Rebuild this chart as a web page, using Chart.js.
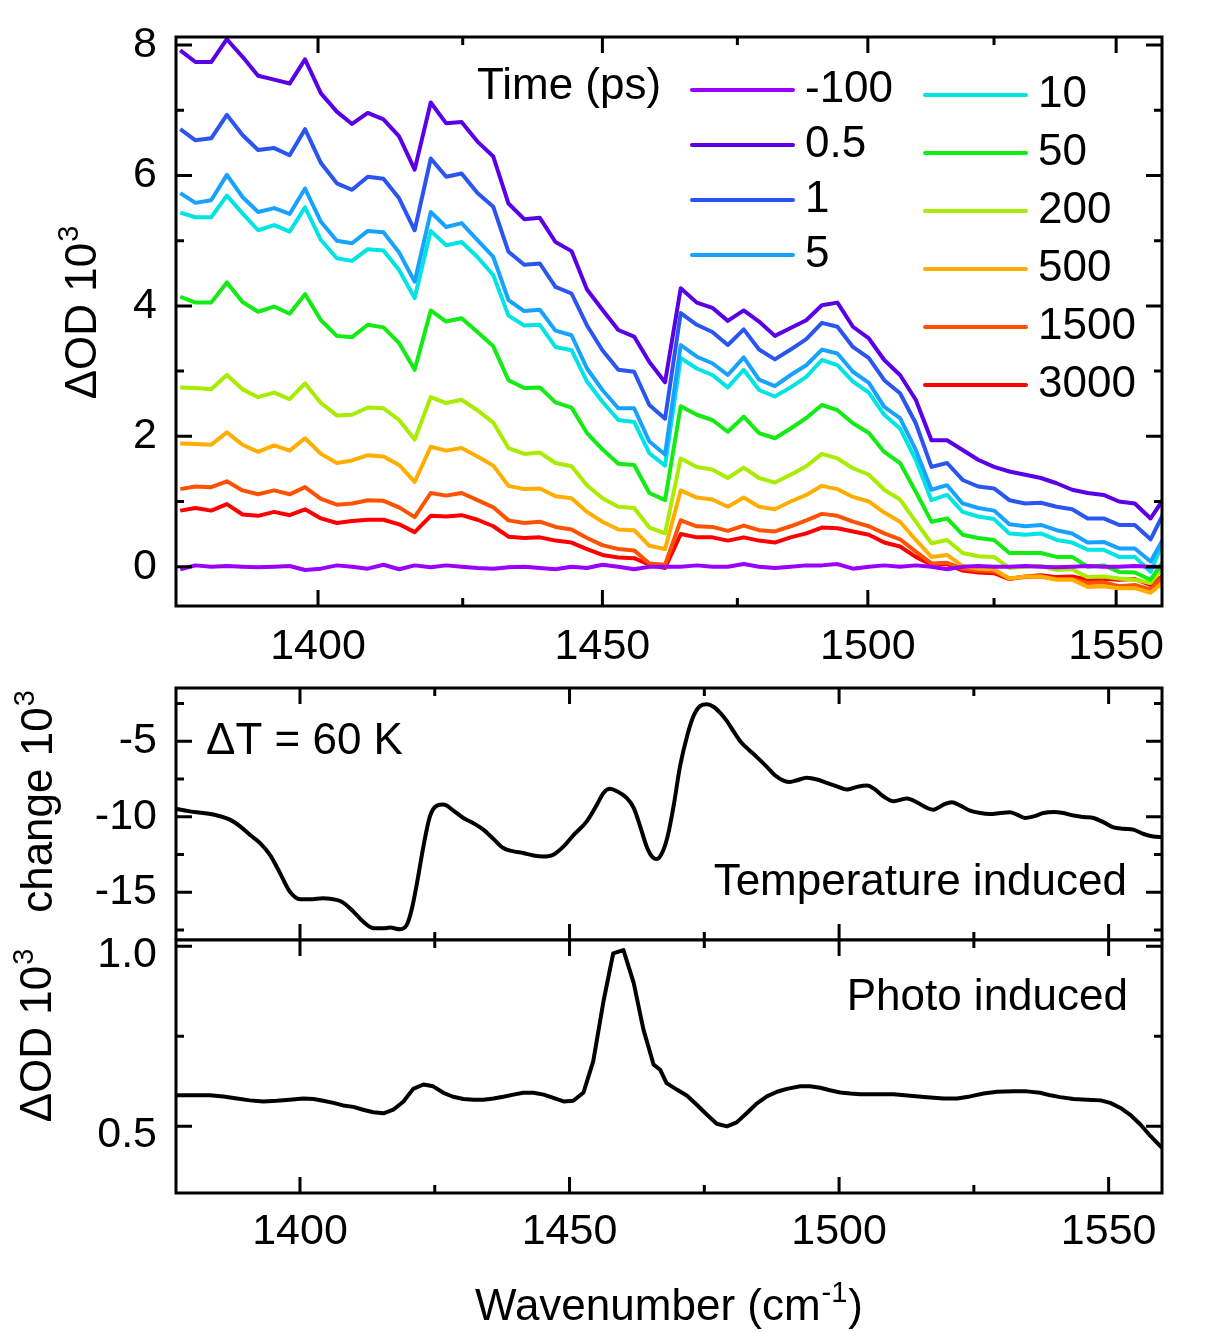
<!DOCTYPE html>
<html>
<head>
<meta charset="utf-8">
<title>Transient IR spectra</title>
<script src="https://cdn.jsdelivr.net/npm/chart.js@4.4.1/dist/chart.umd.min.js"></script>
<style>
    html, body { margin: 0; padding: 0; background: #fff; }
    #wrap { position: relative; width: 1206px; height: 1332px; overflow: hidden; }
    canvas { position: absolute; left: 0; }
</style>
</head>
<body>
<div id="wrap">
    <canvas id="kinetics-chart" width="1206" height="680" style="top:0"></canvas>
    <canvas id="thermal-chart" width="1206" height="300" style="top:640px"></canvas>
    <canvas id="photo-chart" width="1206" height="432" style="top:900px"></canvas>
</div>
<script>
// ---- data ----

// top panel: pump-probe delay series, sampled on the detector pixels
const timeLabels = ['-100', '0.5', '1', '5', '10', '50', '200', '500', '1500', '3000'];
const timeWavenumbers = [
    1377.0, 1379.5, 1382.1, 1384.7, 1387.3, 1389.9, 1392.6, 1395.2, 1397.8, 1400.5, 1403.2, 1405.8, 1408.5, 1411.2, 1413.9, 1416.6,
    1419.4, 1422.1, 1424.8, 1427.6, 1430.4, 1433.1, 1435.9, 1438.7, 1441.5, 1444.4, 1447.2, 1450.0, 1452.9, 1455.8, 1458.6, 1461.5,
    1464.4, 1467.4, 1470.3, 1473.2, 1476.2, 1479.1, 1482.1, 1485.1, 1488.1, 1491.1, 1494.1, 1497.1, 1500.2, 1503.2, 1506.3, 1509.4,
    1512.5, 1515.6, 1518.7, 1521.8, 1525.0, 1528.1, 1531.3, 1534.5, 1537.7, 1540.9, 1544.1, 1547.4, 1550.6, 1553.9, 1557.2, 1560.5
];
const odMinus100 = [
    -0.04, 0.02, 0.00, 0.01, 0.00, -0.01, 0.00, 0.01, -0.05, -0.03, 0.02, 0.00, -0.03, 0.03, -0.04, 0.02,
    -0.01, 0.02, 0.00, -0.02, -0.03, -0.01, 0.00, -0.02, -0.04, 0.00, -0.02, 0.03, 0.00, -0.04, 0.00, 0.00,
    0.00, 0.02, 0.00, 0.00, 0.04, 0.00, -0.02, 0.00, 0.02, 0.02, 0.04, -0.03, 0.00, 0.02, 0.00, 0.02,
    0.00, -0.04, 0.00, 0.01, 0.00, 0.00, 0.01, 0.00, -0.01, 0.00, 0.01, 0.00, 0.00, 0.01, 0.00, 0.00
];
const od0p5 = [
    7.92, 7.74, 7.74, 8.09, 7.82, 7.53, 7.47, 7.41, 7.78, 7.26, 6.98, 6.79, 6.96, 6.86, 6.60, 6.09,
    7.12, 6.80, 6.82, 6.52, 6.29, 5.57, 5.33, 5.35, 4.98, 4.84, 4.25, 3.94, 3.63, 3.53, 3.14, 2.83,
    4.27, 4.05, 3.97, 3.77, 3.93, 3.76, 3.54, 3.66, 3.78, 4.01, 4.05, 3.68, 3.50, 3.17, 2.94, 2.56,
    1.94, 1.94, 1.79, 1.64, 1.53, 1.46, 1.41, 1.36, 1.28, 1.18, 1.13, 1.10, 1.00, 0.97, 0.74, 1.10
];
const od1 = [
    6.71, 6.54, 6.57, 6.93, 6.62, 6.39, 6.42, 6.31, 6.71, 6.19, 5.88, 5.78, 5.98, 5.95, 5.65, 5.16,
    6.26, 5.98, 6.03, 5.73, 5.52, 4.83, 4.63, 4.65, 4.29, 4.19, 3.70, 3.32, 3.02, 2.99, 2.48, 2.27,
    3.89, 3.71, 3.60, 3.40, 3.64, 3.33, 3.18, 3.33, 3.49, 3.74, 3.68, 3.37, 3.20, 2.86, 2.66, 2.20,
    1.53, 1.59, 1.33, 1.23, 1.20, 1.02, 0.97, 0.98, 0.92, 0.88, 0.74, 0.74, 0.64, 0.64, 0.42, 0.90
];
const od5 = [
    5.73, 5.58, 5.62, 6.01, 5.67, 5.44, 5.50, 5.41, 5.80, 5.29, 5.00, 4.96, 5.15, 5.13, 4.82, 4.37,
    5.44, 5.21, 5.27, 5.01, 4.75, 4.09, 3.92, 3.94, 3.62, 3.55, 3.04, 2.71, 2.43, 2.43, 1.92, 1.72,
    3.40, 3.22, 3.12, 2.94, 3.21, 2.87, 2.77, 2.94, 3.09, 3.33, 3.27, 2.99, 2.82, 2.45, 2.28, 1.79,
    1.18, 1.25, 0.97, 0.90, 0.86, 0.65, 0.62, 0.64, 0.56, 0.51, 0.37, 0.38, 0.28, 0.28, 0.08, 0.51
];
const od10 = [
    5.43, 5.36, 5.36, 5.69, 5.42, 5.16, 5.24, 5.14, 5.51, 5.01, 4.73, 4.69, 4.87, 4.85, 4.55, 4.12,
    5.15, 4.93, 4.98, 4.75, 4.47, 3.85, 3.70, 3.71, 3.37, 3.32, 2.84, 2.53, 2.25, 2.22, 1.74, 1.55,
    3.20, 3.04, 2.94, 2.75, 3.02, 2.71, 2.61, 2.75, 2.91, 3.17, 3.09, 2.84, 2.67, 2.33, 2.12, 1.64,
    1.02, 1.10, 0.84, 0.77, 0.73, 0.51, 0.49, 0.51, 0.41, 0.37, 0.26, 0.26, 0.15, 0.15, -0.08, 0.49
];
const od50 = [
    4.14, 4.05, 4.05, 4.36, 4.06, 3.91, 3.99, 3.88, 4.18, 3.78, 3.54, 3.52, 3.71, 3.67, 3.43, 3.02,
    3.93, 3.76, 3.81, 3.60, 3.38, 2.86, 2.74, 2.75, 2.52, 2.44, 2.05, 1.80, 1.58, 1.56, 1.13, 1.02,
    2.46, 2.33, 2.25, 2.07, 2.30, 2.05, 1.97, 2.12, 2.28, 2.48, 2.40, 2.20, 2.05, 1.76, 1.59, 1.15,
    0.69, 0.74, 0.49, 0.44, 0.41, 0.21, 0.21, 0.21, 0.15, 0.15, 0.00, 0.02, -0.08, -0.09, -0.20, 0.15
];
const od200 = [
    2.75, 2.74, 2.72, 2.94, 2.72, 2.60, 2.67, 2.57, 2.81, 2.51, 2.32, 2.33, 2.44, 2.43, 2.25, 1.95,
    2.60, 2.51, 2.56, 2.40, 2.21, 1.82, 1.73, 1.75, 1.59, 1.54, 1.25, 1.05, 0.92, 0.90, 0.60, 0.51,
    1.66, 1.53, 1.49, 1.36, 1.52, 1.36, 1.29, 1.41, 1.54, 1.73, 1.66, 1.51, 1.41, 1.18, 1.03, 0.69,
    0.36, 0.41, 0.21, 0.16, 0.15, -0.02, 0.00, 0.01, -0.05, -0.04, -0.16, -0.15, -0.18, -0.20, -0.25, 0.05
];
const od500 = [
    1.89, 1.88, 1.87, 2.06, 1.87, 1.76, 1.86, 1.78, 1.97, 1.73, 1.59, 1.63, 1.71, 1.69, 1.56, 1.30,
    1.84, 1.78, 1.82, 1.69, 1.55, 1.24, 1.19, 1.20, 1.08, 1.05, 0.84, 0.69, 0.57, 0.56, 0.32, 0.27,
    1.17, 1.06, 1.03, 0.92, 1.06, 0.92, 0.88, 1.00, 1.10, 1.24, 1.19, 1.07, 1.00, 0.83, 0.69, 0.41,
    0.15, 0.18, 0.01, -0.03, -0.04, -0.18, -0.15, -0.15, -0.20, -0.20, -0.31, -0.30, -0.33, -0.33, -0.40, -0.20
];
const od1500 = [
    1.19, 1.23, 1.22, 1.31, 1.17, 1.11, 1.17, 1.11, 1.22, 1.04, 0.95, 0.97, 1.02, 1.01, 0.91, 0.76,
    1.13, 1.09, 1.13, 1.02, 0.91, 0.71, 0.67, 0.69, 0.61, 0.57, 0.44, 0.33, 0.27, 0.25, 0.05, 0.03,
    0.71, 0.62, 0.61, 0.55, 0.63, 0.56, 0.54, 0.62, 0.71, 0.81, 0.78, 0.69, 0.62, 0.51, 0.42, 0.23,
    0.05, 0.06, -0.03, -0.06, -0.07, -0.18, -0.16, -0.15, -0.19, -0.19, -0.25, -0.24, -0.30, -0.28, -0.35, -0.10
];
const od3000 = [
    0.86, 0.90, 0.86, 0.96, 0.80, 0.78, 0.84, 0.79, 0.88, 0.74, 0.67, 0.70, 0.72, 0.72, 0.65, 0.53,
    0.78, 0.77, 0.79, 0.72, 0.62, 0.46, 0.44, 0.45, 0.40, 0.37, 0.27, 0.18, 0.14, 0.13, 0.03, -0.02,
    0.50, 0.45, 0.45, 0.40, 0.45, 0.40, 0.37, 0.45, 0.51, 0.60, 0.59, 0.54, 0.49, 0.37, 0.31, 0.15,
    0.03, 0.04, -0.06, -0.09, -0.10, -0.19, -0.15, -0.13, -0.16, -0.15, -0.20, -0.19, -0.20, -0.19, -0.28, -0.10
];
const timeSeries = [odMinus100, od0p5, od1, od5, od10, od50, od200, od500, od1500, od3000];

// middle panel: temperature-induced difference spectrum
const tempWavenumbers = [
    1377.1, 1379.6, 1382.1, 1384.5, 1387.0, 1388.9, 1390.7, 1392.6, 1394.4, 1396.3, 1398.1, 1400.0, 1401.9, 1404.3, 1406.8, 1408.0,
    1409.9, 1411.7, 1413.6, 1415.5, 1416.7, 1418.6, 1419.8, 1420.7, 1421.7, 1422.9, 1424.1, 1425.4, 1426.6, 1428.4, 1430.3, 1432.1,
    1434.0, 1435.9, 1437.7, 1439.6, 1441.4, 1443.3, 1445.1, 1447.0, 1448.9, 1450.7, 1453.2, 1455.1, 1456.3, 1457.5, 1458.8, 1460.6,
    1461.9, 1463.1, 1464.3, 1465.3, 1466.2, 1467.3, 1468.2, 1469.3, 1470.5, 1471.8, 1473.0, 1474.2, 1475.5, 1476.7, 1477.9, 1479.2,
    1480.4, 1481.9, 1483.2, 1484.7, 1486.6, 1488.1, 1489.7, 1490.9, 1492.2, 1494.0, 1495.9, 1497.7, 1499.6, 1501.4, 1503.3, 1505.2,
    1506.7, 1508.2, 1510.1, 1512.6, 1514.4, 1516.3, 1517.5, 1519.4, 1520.9, 1522.5, 1524.3, 1526.2, 1528.0, 1529.9, 1531.7, 1533.0,
    1534.5, 1536.1, 1537.9, 1539.8, 1541.6, 1543.5, 1545.4, 1547.2, 1549.1, 1550.9, 1552.8, 1554.6, 1556.5, 1558.3, 1559.9
];
const tempChange = [
    -9.49, -9.65, -9.76, -9.91, -10.20, -10.64, -11.20, -11.75, -12.52, -13.74, -14.96, -15.47, -15.47, -15.40, -15.51, -15.69,
    -16.29, -16.95, -17.39, -17.39, -17.35, -17.46, -17.17, -16.18, -14.40, -11.97, -9.98, -9.27, -9.20, -9.58, -10.09, -10.42,
    -10.86, -11.48, -12.08, -12.30, -12.41, -12.57, -12.64, -12.52, -11.97, -11.24, -10.31, -9.20, -8.43, -8.16, -8.32, -8.76,
    -9.42, -10.64, -11.97, -12.64, -12.81, -12.30, -11.30, -9.31, -6.66, -4.67, -3.34, -2.68, -2.56, -2.72, -3.11, -3.67,
    -4.34, -5.11, -5.55, -6.04, -6.70, -7.26, -7.61, -7.70, -7.59, -7.43, -7.54, -7.76, -7.99, -8.21, -8.03, -7.94,
    -8.21, -8.65, -8.98, -8.80, -9.05, -9.42, -9.54, -9.20, -9.05, -9.27, -9.60, -9.76, -9.82, -9.76, -9.71, -9.87,
    -10.09, -9.98, -9.76, -9.69, -9.76, -9.93, -10.02, -10.09, -10.38, -10.71, -10.80, -10.86, -11.15, -11.31, -11.35
];

// bottom panel: photo-induced difference spectrum
const photoWavenumbers = [
    1377.1, 1379.6, 1383.3, 1385.8, 1388.3, 1390.7, 1393.2, 1395.7, 1398.1, 1400.6, 1402.5, 1404.3, 1406.2, 1408.0, 1409.9, 1411.7,
    1413.6, 1415.5, 1417.3, 1419.2, 1421.0, 1422.9, 1424.7, 1426.6, 1428.4, 1430.3, 1432.2, 1434.0, 1435.9, 1437.7, 1439.6, 1441.4,
    1443.3, 1445.2, 1447.0, 1448.9, 1450.7, 1452.6, 1454.4, 1456.3, 1458.1, 1460.0, 1461.9, 1463.7, 1465.6, 1466.8, 1468.0, 1469.9,
    1471.8, 1473.6, 1475.5, 1477.3, 1479.2, 1481.0, 1482.9, 1484.7, 1486.6, 1488.5, 1490.3, 1492.8, 1494.6, 1496.5, 1498.3, 1500.2,
    1502.1, 1503.9, 1507.0, 1510.1, 1513.2, 1516.3, 1519.4, 1521.9, 1524.3, 1526.8, 1529.3, 1532.4, 1534.8, 1537.3, 1539.2, 1541.0,
    1543.5, 1546.0, 1548.5, 1550.3, 1552.2, 1554.0, 1555.9, 1557.7, 1559.9
];
const photoDOD = [
    0.586, 0.586, 0.586, 0.583, 0.577, 0.572, 0.569, 0.571, 0.574, 0.577, 0.576, 0.571, 0.565, 0.558, 0.554, 0.546,
    0.539, 0.536, 0.546, 0.569, 0.604, 0.616, 0.611, 0.593, 0.582, 0.576, 0.574, 0.574, 0.577, 0.582, 0.588, 0.593,
    0.593, 0.588, 0.579, 0.569, 0.571, 0.594, 0.681, 0.847, 0.980, 0.989, 0.898, 0.769, 0.671, 0.657, 0.620, 0.602,
    0.585, 0.560, 0.532, 0.507, 0.500, 0.511, 0.537, 0.563, 0.583, 0.596, 0.604, 0.611, 0.611, 0.607, 0.600, 0.594,
    0.591, 0.589, 0.589, 0.589, 0.585, 0.581, 0.577, 0.577, 0.583, 0.591, 0.596, 0.597, 0.597, 0.593, 0.586, 0.581,
    0.576, 0.574, 0.572, 0.565, 0.551, 0.532, 0.505, 0.474, 0.440
];

// tick values
const wavenumberTicks = [1400, 1450, 1500, 1550];
const wavenumberMinorTicks = [1425, 1475, 1525];
const kineticsTicks = [0, 2, 4, 6, 8];
const kineticsMinorTicks = [1, 3, 5, 7];
const thermalTicks = [-5, -10, -15];
const thermalMinorTicks = [-2.5, -7.5, -12.5, -17.5];
const photoTicks = [0.5, 1.0];
const photoMinorTicks = [0.75];

// ---- styling ----
const timeColors = ['#9a00ff', '#5a00e8', '#2a55f0', '#18a2ff', '#00e4e4', '#12ec12', '#a8ec00', '#ffae00', '#ff5200', '#ff0000'];
const FONT = "'Liberation Sans', Arial, Helvetica, sans-serif";
const TICK_FONT = {family: FONT, size: 43};
const TEXT_FONT = '44px ' + FONT;
const SUP_FONT = '29px ' + FONT;

// the top panel is linear in wavelength (1/wavenumber), not in wavenumber
const LinearScale = Chart.LinearScale || Chart.registry.getScale('linear');
class WavelengthScale extends LinearScale {
    getPixelForValue(value) {
        if (value === null || value === undefined) return NaN;
        const a = 1 / this.min, b = 1 / this.max;
        return this.getPixelForDecimal((a - 1 / value) / (a - b));
    }
    getValueForPixel(pixel) {
        const a = 1 / this.min, b = 1 / this.max;
        return 1 / (a - this.getDecimalForPixel(pixel) * (a - b));
    }
}
WavelengthScale.id = 'wavelength';
WavelengthScale.defaults = LinearScale.defaults;
Chart.register(WavelengthScale);

// frame box with inward tick marks on all four sides
const frameTicks = {
    id: 'frameTicks',
    afterDatasetsDraw(chart, args, opts) {
        const {ctx, chartArea: {left, right, top, bottom}, scales: {x, y}} = chart;
        ctx.save();
        ctx.strokeStyle = '#000';
        ctx.lineWidth = 3;
        ctx.beginPath();
        const xMark = (v, len) => {
            const px = x.getPixelForValue(v);
            ctx.moveTo(px, bottom); ctx.lineTo(px, bottom - len);
            ctx.moveTo(px, top); ctx.lineTo(px, top + len);
        };
        const yMark = (v, len) => {
            const py = y.getPixelForValue(v);
            ctx.moveTo(left, py); ctx.lineTo(left + len, py);
            ctx.moveTo(right, py); ctx.lineTo(right - len, py);
        };
        opts.xMajor.forEach(v => xMark(v, 16));
        opts.xMinor.forEach(v => xMark(v, 8));
        opts.yMajor.forEach(v => yMark(v, 16));
        opts.yMinor.forEach(v => yMark(v, 8));
        ctx.stroke();
        ctx.strokeRect(left, top, right - left, bottom - top);
        ctx.restore();
    }
};

// free text: axis titles and panel annotations; `sup` is drawn as a superscript after `text`
const textLabels = {
    id: 'textLabels',
    afterDraw(chart, args, opts) {
        const ctx = chart.ctx;
        (opts.items || []).forEach(t => {
            ctx.save();
            ctx.fillStyle = '#000';
            ctx.textBaseline = 'middle';
            ctx.textAlign = 'left';
            ctx.translate(t.x, t.y);
            if (t.rotate) ctx.rotate(t.rotate);
            ctx.font = TEXT_FONT;
            const w1 = ctx.measureText(t.text).width;
            ctx.font = SUP_FONT;
            const w2 = t.sup ? ctx.measureText(t.sup).width + 2 : 0;
            ctx.font = TEXT_FONT;
            const w3 = t.after ? ctx.measureText(t.after).width : 0;
            const total = w1 + w2 + w3;
            let x0 = t.align === 'center' ? -total / 2 : t.align === 'right' ? -total : 0;
            ctx.fillText(t.text, x0, 0);
            x0 += w1;
            if (t.sup) {
                ctx.font = SUP_FONT;
                ctx.fillText(t.sup, x0 + 1, -14);
                x0 += w2;
            }
            if (t.after) {
                ctx.font = TEXT_FONT;
                ctx.fillText(t.after, x0, 0);
            }
            ctx.restore();
        });
    }
};

// two-column legend of the delay times
const timeLegend = {
    id: 'timeLegend',
    afterDraw(chart, args, opts) {
        const ctx = chart.ctx;
        ctx.save();
        ctx.font = TEXT_FONT;
        ctx.fillStyle = '#000';
        ctx.textAlign = 'left';
        ctx.textBaseline = 'middle';
        ctx.fillText(opts.title, opts.titleX, opts.titleY);
        let k = 0;
        opts.columns.forEach(col => {
            for (let r = 0; r < col.count; r++, k++) {
                const ds = chart.data.datasets[k];
                const yy = col.y + r * col.dy;
                ctx.strokeStyle = ds.borderColor;
                ctx.lineWidth = 4;
                ctx.lineCap = 'round';
                ctx.beginPath();
                ctx.moveTo(col.x, yy);
                ctx.lineTo(col.x + opts.lineLength, yy);
                ctx.stroke();
                ctx.fillText(ds.label, col.textX, yy);
            }
        });
        ctx.restore();
    }
};

function fixedTicks(values) {
    return scale => { scale.ticks = values.map(v => ({value: v})); };
}
function yAxis(min, max, ticks, format, labelOffset) {
    return {
        min, max,
        afterBuildTicks: fixedTicks(ticks),
        afterFit: s => { s.width = 176; s.paddingTop = 0; s.paddingBottom = 0; },
        grid: {display: false, drawTicks: false},
        border: {display: false},
        ticks: {font: TICK_FONT, color: '#000', padding: 19, callback: format, labelOffset: labelOffset || 0}
    };
}
function xAxis(type, min, max, height, show, padding) {
    return {
        type, min, max,
        display: show,
        afterBuildTicks: fixedTicks(wavenumberTicks),
        afterFit: s => { s.height = height; s.paddingLeft = 0; s.paddingRight = 0; },
        grid: {display: false, drawTicks: false},
        border: {display: false},
        ticks: {font: TICK_FONT, color: '#000', padding, maxRotation: 0, autoSkip: false, callback: v => String(v)}
    };
}
const baseOptions = {
    responsive: false,
    devicePixelRatio: 1,
    animation: false,
    events: [],
    plugins: {legend: {display: false}, tooltip: {enabled: false}}
};

// ---- top panel ----
new Chart(document.getElementById('kinetics-chart'), {
    type: 'line',
    data: {
        datasets: timeLabels.map((label, k) => ({
            label,
            data: timeWavenumbers.map((x, i) => ({x, y: timeSeries[k][i]})),
            borderColor: timeColors[k],
            borderWidth: 4,
            pointRadius: 0,
            tension: 0,
            borderJoinStyle: 'round'
        }))
    },
    options: {
        ...baseOptions,
        layout: {padding: {top: 37, right: 44, bottom: 0, left: 0}},
        scales: {
            x: xAxis('wavelength', 1376.3, 1559.6, 74, true, 15),
            y: yAxis(-0.603, 8.124, kineticsTicks, v => String(v))
        },
        plugins: {
            ...baseOptions.plugins,
            frameTicks: {xMajor: wavenumberTicks, xMinor: wavenumberMinorTicks, yMajor: kineticsTicks, yMinor: kineticsMinorTicks},
            textLabels: {items: [{text: 'ΔOD 10', sup: '3', x: 84, y: 312, rotate: -Math.PI / 2, align: 'center'}]},
            timeLegend: {
                title: 'Time (ps)', titleX: 477, titleY: 87, lineLength: 101,
                columns: [
                    {x: 692, textX: 805, y: 90, dy: 55, count: 4},
                    {x: 925, textX: 1038, y: 95, dy: 58, count: 6}
                ]
            }
        }
    },
    plugins: [frameTicks, textLabels, timeLegend]
});

// ---- middle panel ----
new Chart(document.getElementById('thermal-chart'), {
    type: 'line',
    data: {
        datasets: [{
            label: 'Temperature induced',
            data: tempWavenumbers.map((x, i) => ({x, y: tempChange[i]})),
            borderColor: '#000',
            borderWidth: 4,
            pointRadius: 0,
            cubicInterpolationMode: 'monotone'
        }]
    },
    options: {
        ...baseOptions,
        layout: {padding: {top: 48, right: 44, bottom: 0, left: 0}},
        scales: {
            x: xAxis('linear', 1377.0, 1559.9, 0, false, 0),
            y: yAxis(-18.17, -1.48, thermalTicks, v => String(v))
        },
        plugins: {
            ...baseOptions.plugins,
            frameTicks: {xMajor: wavenumberTicks, xMinor: wavenumberMinorTicks, yMajor: thermalTicks, yMinor: thermalMinorTicks},
            textLabels: {items: [
                {text: 'change 10', sup: '3', x: 40, y: 161, rotate: -Math.PI / 2, align: 'center'},
                {text: 'ΔT = 60 K', x: 206, y: 102},
                {text: 'Temperature induced', x: 1127, y: 243, align: 'right'}
            ]}
        }
    },
    plugins: [frameTicks, textLabels]
});

// ---- bottom panel ----
new Chart(document.getElementById('photo-chart'), {
    type: 'line',
    data: {
        datasets: [{
            label: 'Photo induced',
            data: photoWavenumbers.map((x, i) => ({x, y: photoDOD[i]})),
            borderColor: '#000',
            borderWidth: 4,
            pointRadius: 0,
            tension: 0,
            borderJoinStyle: 'round'
        }]
    },
    options: {
        ...baseOptions,
        layout: {padding: {top: 40, right: 44, bottom: 0, left: 0}},
        scales: {
            x: xAxis('linear', 1377.0, 1559.9, 139, true, 13),
            y: yAxis(0.315, 1.017, photoTicks, v => v.toFixed(1), 9)
        },
        plugins: {
            ...baseOptions.plugins,
            frameTicks: {xMajor: wavenumberTicks, xMinor: wavenumberMinorTicks, yMajor: photoTicks, yMinor: photoMinorTicks},
            textLabels: {items: [
                {text: 'ΔOD 10', sup: '3', x: 39, y: 135, rotate: -Math.PI / 2, align: 'center'},
                {text: 'Photo induced', x: 1128, y: 98, align: 'right'},
                {text: 'Wavenumber (cm', sup: '-1', after: ')', x: 669, y: 408, align: 'center'}
            ]}
        }
    },
    plugins: [frameTicks, textLabels]
});
</script>
</body>
</html>
